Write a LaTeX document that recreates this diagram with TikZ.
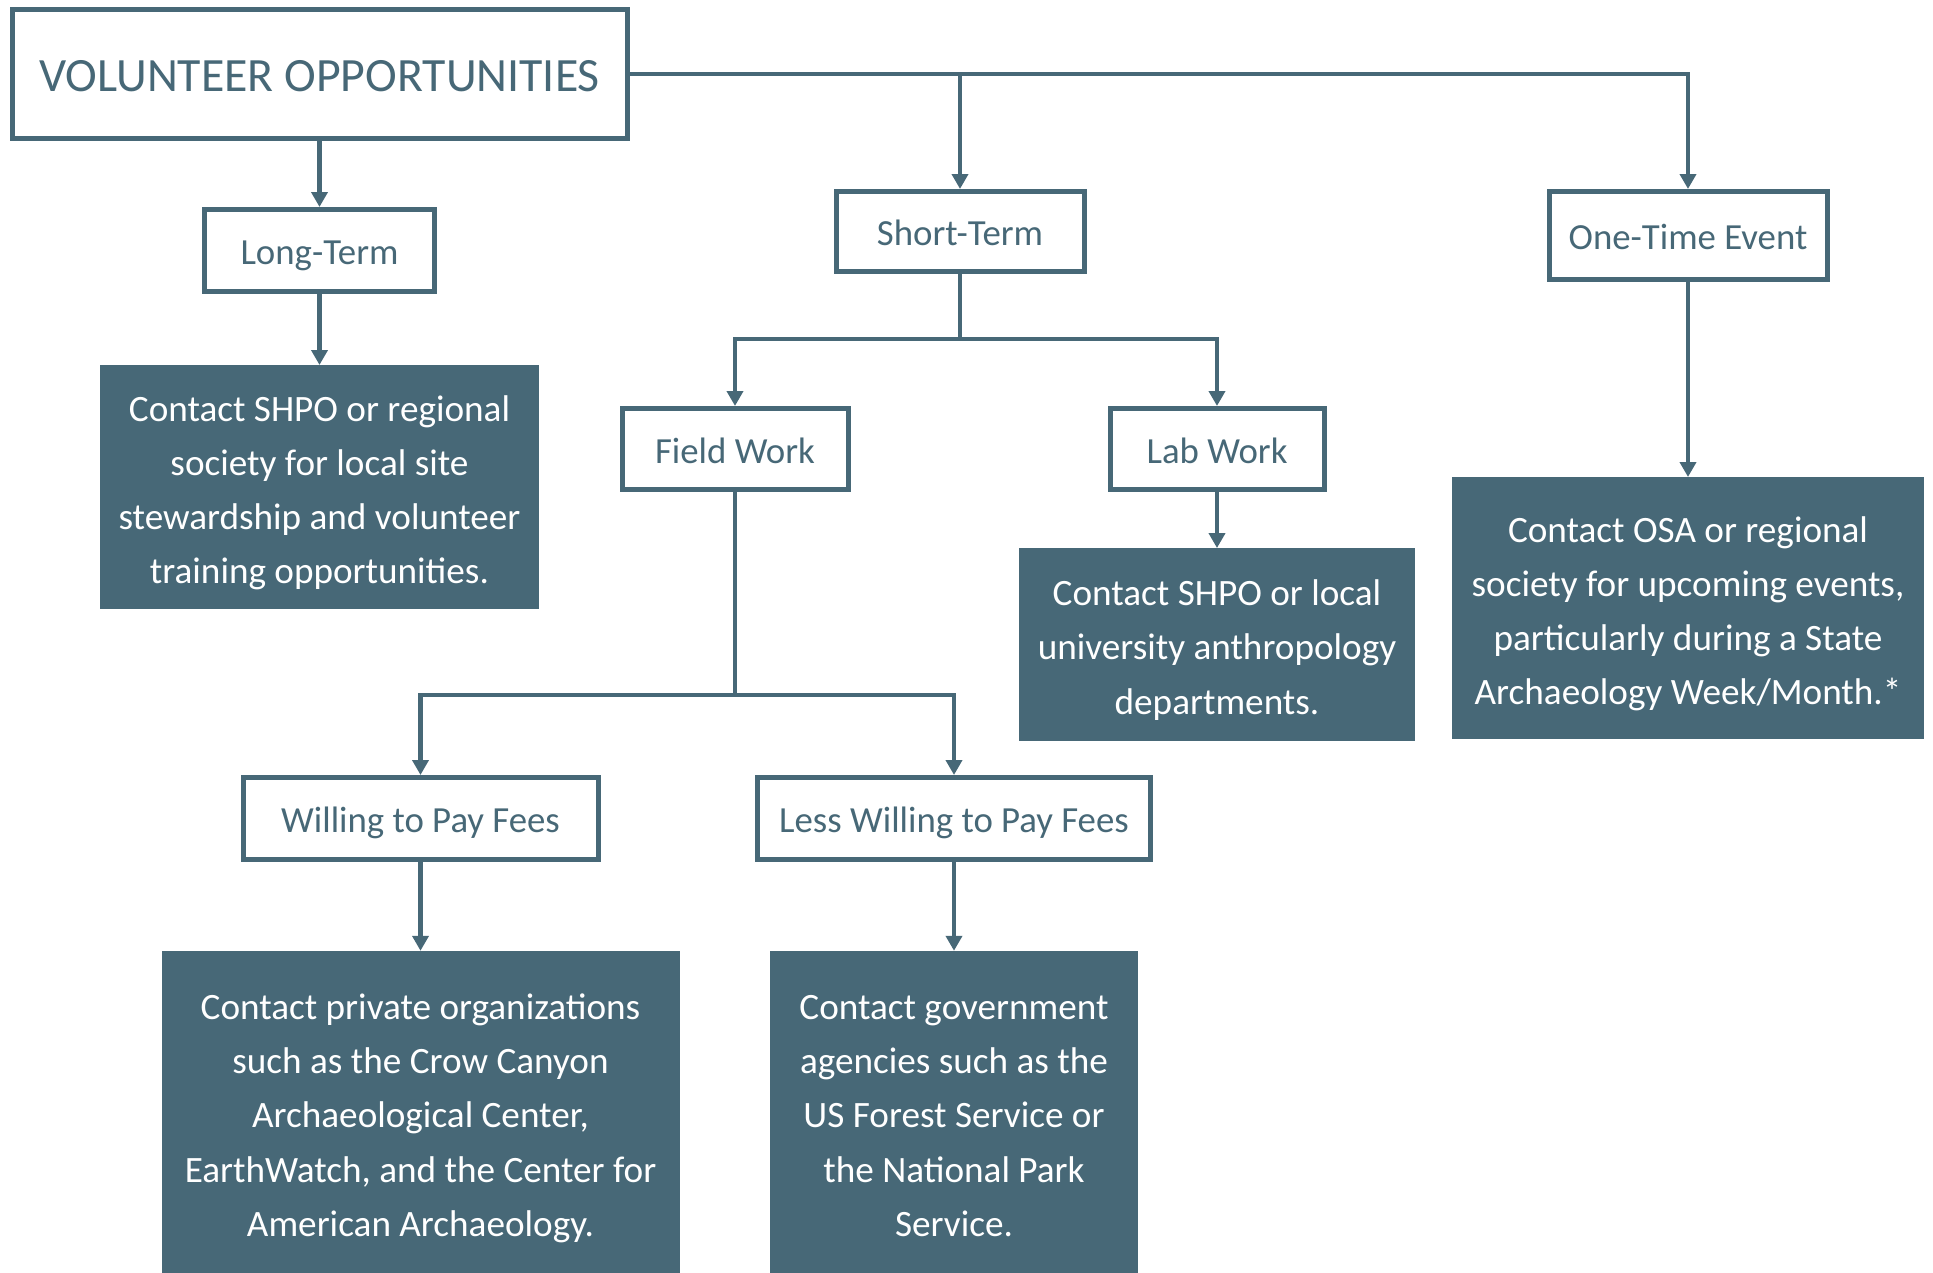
\documentclass[tikz,border=0pt]{standalone}
\usepackage{fontspec}
\setmainfont{Carlito}
\usetikzlibrary{arrows.meta}
\definecolor{slate}{RGB}{71,104,119}
\newcommand\mytop{\rule{0pt}{39pt}}
\newcommand\mytopb{\rule{0pt}{34pt}}
\newcommand\mybot{\rule[-8pt]{0pt}{8pt}}
\begin{document}
\begin{tikzpicture}[x=1pt,y=-1pt,
  wbox/.style={draw=slate, line width=5pt, fill=white, text=slate,
    font=\fontsize{36.8}{44}\selectfont, inner sep=0pt, text height=28pt, text depth=0pt},
  dbox/.style={fill=slate, text=white, font=\fontsize{37.2}{54.3}\selectfont,
    align=center, inner sep=0pt, outer sep=0pt},
  conn/.style={draw=slate, line width=4.5pt},
  arr/.style={conn, -{Triangle[width=16pt,length=15pt]}}]
\useasboundingbox (0,0) rectangle (1933,1272);

% white boxes
\node[wbox, minimum width=615pt, minimum height=129pt,
  font=\fontsize{47.8}{52}\selectfont, text height=35pt] (main) at (319.5,74) {VOLUNTEER OPPORTUNITIES};
\node[wbox, minimum width=230pt, minimum height=82pt] (long) at (319.5,250.5) {Long-Term};
\node[wbox, minimum width=248pt, minimum height=80pt] (short) at (960,231.5) {Short-Term};
\node[wbox, minimum width=278pt, minimum height=88pt] (one) at (1688,235.5) {One-Time Event};
\node[wbox, minimum width=226pt, minimum height=81pt] (field) at (735,449) {Field Work};
\node[wbox, minimum width=214pt, minimum height=81pt] (lab) at (1217,449) {Lab Work};
\node[wbox, minimum width=355pt, minimum height=82pt] (will) at (420.5,818.5) {Willing to Pay Fees};
\node[wbox, minimum width=393pt, minimum height=82pt] (less) at (954,818.5) {Less Willing to Pay Fees};

% dark boxes
\node[dbox, minimum width=439pt, minimum height=244pt] (d1) at (319.5,487)
  {\mytop Contact SHPO or regional\\society for local site\\stewardship and volunteer\\training opportunities.\mybot};
\node[dbox, minimum width=396pt, minimum height=192.7pt] (d2) at (1217,644.4)
  {\mytop Contact SHPO or local\\university anthropology\\departments.\mybot};
\node[dbox, minimum width=472pt, minimum height=262pt] (d3) at (1688,608)
  {\mytop Contact OSA or regional\\society for upcoming events,\\particularly during a State\\Archaeology Week/Month.*\mybot};
\node[dbox, minimum width=518pt, minimum height=328pt] (d4) at (420.5,1114.8)
  {\mytopb Contact private organizations\\such as the Crow Canyon\\Archaeological Center,\\EarthWatch, and the Center for\\American Archaeology.\mybot};
\node[dbox, minimum width=368pt, minimum height=328pt] (d5) at (954,1114.8)
  {\mytopb Contact government\\agencies such as the\\US Forest Service or\\the National Park\\Service.\mybot};

% connectors
\coordinate (j1) at (960,339);
\coordinate (j2) at (735,695);
\draw[arr] (main.south) -- (long.north);
\draw[arr] (long.south) -- (d1.north);
\draw[arr] (main.east) -| (one.north);
\draw[arr] (main.east -| short.north) -- (short.north);
\draw[arr] (one.south) -- (d3.north);
\draw[arr] (short.south) -- (j1) -| (field.north);
\draw[arr] (j1) -| (lab.north);
\draw[arr] (lab.south) -- (d2.north);
\draw[arr] (field.south) -- (j2) -| (will.north);
\draw[arr] (j2) -| (less.north);
\draw[arr] (will.south) -- (d4.north);
\draw[arr] (less.south) -- (d5.north);
\end{tikzpicture}
\end{document}
